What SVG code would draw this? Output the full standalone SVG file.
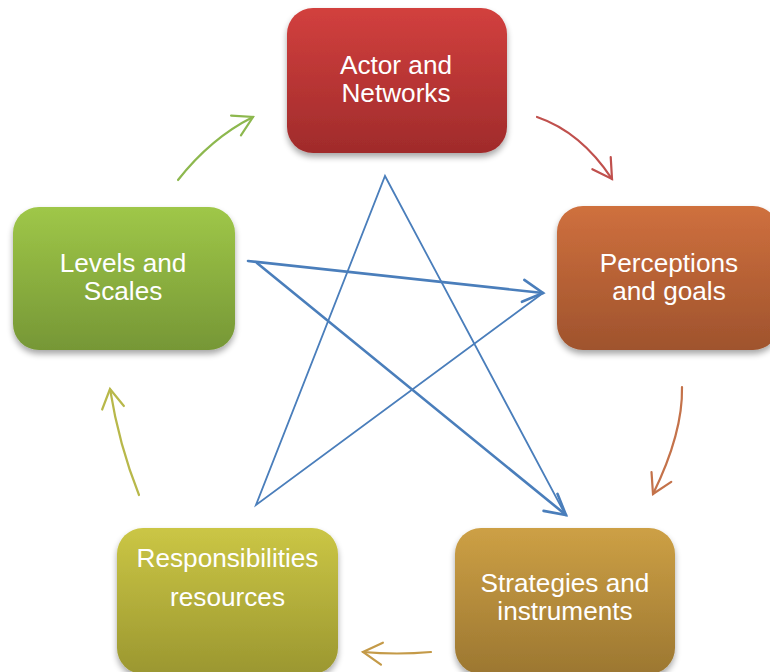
<svg xmlns="http://www.w3.org/2000/svg" width="770" height="672" viewBox="0 0 770 672">
<style>
.lbl{font-family:"Liberation Sans",Arial,sans-serif;font-size:26.2px;fill:#ffffff;text-anchor:middle}
.box{filter:url(#sh)}
.cv{fill:none;stroke-width:2.2;stroke-linecap:round}
.bl{fill:none;stroke:#4A7EBB;stroke-linecap:round}
</style>
<defs>
<filter id="sh" x="-10%" y="-10%" width="120%" height="130%">
<feGaussianBlur in="SourceAlpha" stdDeviation="3"/>
<feOffset dx="0" dy="4"/>
<feComponentTransfer><feFuncA type="linear" slope="0.35"/></feComponentTransfer>
<feMerge><feMergeNode/><feMergeNode in="SourceGraphic"/></feMerge>
</filter>
<linearGradient id="gRed" x1="0" y1="0" x2="0" y2="1"><stop offset="0" stop-color="#D2403E"/><stop offset="1" stop-color="#A02B2B"/></linearGradient>
<linearGradient id="gOr" x1="0" y1="0" x2="0" y2="1"><stop offset="0" stop-color="#CF703E"/><stop offset="1" stop-color="#9F532D"/></linearGradient>
<linearGradient id="gGr" x1="0" y1="0" x2="0" y2="1"><stop offset="0" stop-color="#9FC748"/><stop offset="1" stop-color="#769736"/></linearGradient>
<linearGradient id="gYe" x1="0" y1="0" x2="0" y2="1"><stop offset="0" stop-color="#CBC645"/><stop offset="1" stop-color="#9B9730"/></linearGradient>
<linearGradient id="gGo" x1="0" y1="0" x2="0" y2="1"><stop offset="0" stop-color="#CDA045"/><stop offset="1" stop-color="#9C7731"/></linearGradient>
<marker id="mRed" markerUnits="userSpaceOnUse" viewBox="-22 -13 26 26" markerWidth="26" markerHeight="26" refX="0" refY="0" orient="auto"><path d="M-19,-11 L0,0 L-19,11" fill="none" stroke="#C0504D" stroke-width="2.2" stroke-linecap="round"/></marker>
<marker id="mOr" markerUnits="userSpaceOnUse" viewBox="-22 -13 26 26" markerWidth="26" markerHeight="26" refX="0" refY="0" orient="auto"><path d="M-19,-11 L0,0 L-19,11" fill="none" stroke="#C4724A" stroke-width="2.2" stroke-linecap="round"/></marker>
<marker id="mGo" markerUnits="userSpaceOnUse" viewBox="-22 -13 26 26" markerWidth="26" markerHeight="26" refX="0" refY="0" orient="auto"><path d="M-19,-11 L0,0 L-19,11" fill="none" stroke="#C49A48" stroke-width="2.2" stroke-linecap="round"/></marker>
<marker id="mYe" markerUnits="userSpaceOnUse" viewBox="-22 -13 26 26" markerWidth="26" markerHeight="26" refX="0" refY="0" orient="auto"><path d="M-19,-11 L0,0 L-19,11" fill="none" stroke="#B8B84A" stroke-width="2.2" stroke-linecap="round"/></marker>
<marker id="mGr" markerUnits="userSpaceOnUse" viewBox="-22 -13 26 26" markerWidth="26" markerHeight="26" refX="0" refY="0" orient="auto"><path d="M-19,-11 L0,0 L-19,11" fill="none" stroke="#8DB84E" stroke-width="2.2" stroke-linecap="round"/></marker>
<marker id="mBl" markerUnits="userSpaceOnUse" viewBox="-24 -13 28 26" markerWidth="28" markerHeight="26" refX="0" refY="0" orient="auto"><path d="M-20,-11 L0,0 L-20,11" fill="none" stroke="#4A7EBB" stroke-width="2.6" stroke-linecap="round"/></marker>
</defs>
<rect width="770" height="672" fill="#ffffff"/>

<g id="connectors">
<path class="cv" stroke="#C0504D" d="M537,117 Q581,132 612,179" marker-end="url(#mRed)"/>
<path class="cv" stroke="#C4724A" d="M682,387 Q683,433 653,494" marker-end="url(#mOr)"/>
<path class="cv" stroke="#C49A48" d="M431,652 Q397,655 363,652" marker-end="url(#mGo)"/>
<path class="cv" stroke="#B8B84A" d="M139,495 Q119,445 110,389" marker-end="url(#mYe)"/>
<path class="cv" stroke="#8DB84E" d="M178,180 Q211,138 253,117" marker-end="url(#mGr)"/>
<polyline class="bl" stroke-width="1.8" points="565,514 385,176 256,505 543,293"/>
<line class="bl" stroke-width="2.6" x1="248" y1="261" x2="543" y2="293" marker-end="url(#mBl)"/>
<line class="bl" stroke-width="2.6" x1="257" y1="263" x2="566" y2="515" marker-end="url(#mBl)"/>
</g>

<g id="actor-networks">
<rect class="box" x="287" y="8" width="220" height="145" rx="26" fill="url(#gRed)"/>
<text class="lbl" x="396" y="74">Actor and</text>
<text class="lbl" x="396" y="102">Networks</text>
</g>
<g id="perceptions-goals">
<rect class="box" x="557" y="206" width="222" height="144" rx="26" fill="url(#gOr)"/>
<text class="lbl" x="669" y="272">Perceptions</text>
<text class="lbl" x="669" y="300">and goals</text>
</g>
<g id="levels-scales">
<rect class="box" x="13" y="207" width="222" height="143" rx="26" fill="url(#gGr)"/>
<text class="lbl" x="123" y="272">Levels and</text>
<text class="lbl" x="123" y="300">Scales</text>
</g>
<g id="responsibilities-resources">
<rect class="box" x="117" y="528" width="221" height="146" rx="26" fill="url(#gYe)"/>
<text class="lbl" x="227.5" y="567">Responsibilities</text>
<text class="lbl" x="227.5" y="606">resources</text>
</g>
<g id="strategies-instruments">
<rect class="box" x="455" y="528" width="220" height="146" rx="26" fill="url(#gGo)"/>
<text class="lbl" x="565" y="592">Strategies and</text>
<text class="lbl" x="565" y="620">instruments</text>
</g>
</svg>
